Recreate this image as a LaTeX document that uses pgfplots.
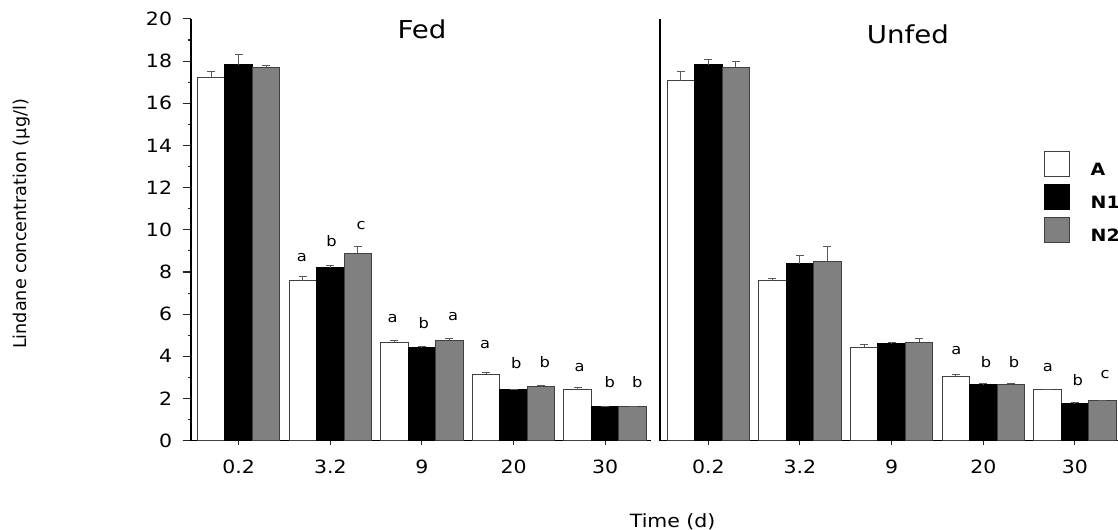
\documentclass[border=0pt]{standalone}
\usepackage{fontspec}
\setmainfont{DejaVu Sans}[FakeStretch=1.12]
\newfontfamily\plainfont{DejaVu Sans}
\newfontfamily\boldfont{DejaVu Sans Bold}[FakeStretch=1.12]
\usepackage{pgfplots}
\usepackage{pgfplotstable}
\pgfplotsset{compat=1.18}

\pgfplotstableread{
x A eA N1 eN1 N2 eN2
0 17.21 0.30 17.82 0.51 17.71 0.10
1 7.59 0.19 8.19 0.10 8.89 0.31
2 4.67 0.09 4.44 0.02 4.76 0.10
3 3.15 0.08 2.42 0.02 2.55 0.08
4 2.41 0.13 1.64 0.00 1.64 0.00
}\fed

\pgfplotstableread{
x A eA N1 eN1 N2 eN2
0 17.08 0.42 17.82 0.27 17.71 0.29
1 7.59 0.11 8.38 0.41 8.48 0.72
2 4.43 0.12 4.59 0.06 4.67 0.17
3 3.06 0.08 2.64 0.08 2.64 0.08
4 2.41 0.03 1.75 0.08 1.90 0.00
}\unfed

\definecolor{bargray}{RGB}{128,128,128}
\definecolor{errgray}{RGB}{90,90,90}

\tikzset{letter/.style={font=\fontsize{10.9}{12}\selectfont, inner sep=0pt, anchor=center}}

\pgfplotsset{
  panel/.style={
    scale only axis,
    height=316.3pt,
    ymin=0, ymax=20,
    enlarge x limits=false,
    ybar, bar width=0.3, bar shift=0pt,
    clip=false,
    axis lines*=left,
    axis line style={black, line width=0.8pt},
    tick align=outside,
    tick style={black!85, line width=0.8pt},
    xtick={0,1,2,3,4},
    xticklabels={0.2,3.2,9,20,30},
    tick label style={font=\fontsize{13.7}{16}\selectfont},
    yticklabel style={xshift=-4.5pt},
    xticklabel style={yshift=-5pt},
    /pgf/number format/assume math mode=true,
    major tick length=6.2pt,
    minor tick length=2.5pt,
    xtick style={/pgfplots/major tick length=3.2pt},
    error bars/y dir=plus,
    error bars/y explicit,
    error bars/error bar style={errgray, line width=0.8pt},
    error bars/error mark options={errgray, line width=0.8pt, mark size=3pt, rotate=90},
  },
  barA/.style={fill=white, draw=black!75, line width=0.75pt},
  barN1/.style={fill=black, draw=black, line width=0.75pt},
  barN2/.style={fill=bargray, draw=black!75, line width=0.75pt},
  leg/.style={legend image code/.code={\draw[##1] (0pt,-4.7pt) rectangle (18.75pt,14.05pt);}},
}

\begin{document}
\begin{tikzpicture}
\path[use as bounding box] (0pt,0pt) rectangle (838.5pt,-397.5pt);

% ---------------- Fed ----------------
\begin{axis}[panel,
  at={(143.25pt,-330.5pt)}, anchor=south west,
  width=345pt,
  xmin=-0.52, xmax=4.5,
  ytick={0,2,...,20},
  minor y tick num=1,
]
\addplot[barA] table[x expr=\thisrow{x}-0.3, y=A, y error=eA] {\fed};
\addplot[barN1] table[x=x, y=N1, y error=eN1] {\fed};
\addplot[barN2] table[x expr=\thisrow{x}+0.3, y=N2, y error=eN2] {\fed};

\node[letter] at (axis cs:0.69,8.68) {a};
\node[letter] at (axis cs:1.015,9.47) {b};
\node[letter] at (axis cs:1.335,10.2) {c};
\node[letter] at (axis cs:1.68,5.77) {a};
\node[letter] at (axis cs:2.02,5.57) {b};
\node[letter] at (axis cs:2.34,5.88) {a};
\node[letter] at (axis cs:2.69,4.54) {a};
\node[letter] at (axis cs:3.03,3.67) {b};
\node[letter] at (axis cs:3.34,3.75) {b};
\node[letter] at (axis cs:3.72,3.46) {a};
\node[letter] at (axis cs:4.05,2.76) {b};
\node[letter] at (axis cs:4.35,2.76) {b};
\end{axis}

% ---------------- Unfed ----------------
\begin{axis}[panel,
  at={(495pt,-330.5pt)}, anchor=south west,
  width=343.5pt,
  xmin=-0.527, xmax=4.47,
  ytick=\empty,
  legend style={draw=none, fill=none,
    at={(axis description cs:0.8384,0.6877)}, anchor=north west,
    inner sep=0pt, outer sep=0pt,
    row sep=5.05pt, column sep=15.5pt,
    font=\boldfont\fontsize{12.7}{14}\selectfont,
    nodes={inner sep=0pt}},
  legend cell align=left,
]
\addplot[barA, leg] table[x expr=\thisrow{x}-0.3, y=A, y error=eA] {\unfed};
\addplot[barN1, leg] table[x=x, y=N1, y error=eN1] {\unfed};
\addplot[barN2, leg] table[x expr=\thisrow{x}+0.3, y=N2, y error=eN2] {\unfed};
\legend{A,N1,N2}

\node[letter] at (axis cs:2.707,4.27) {a};
\node[letter] at (axis cs:3.03,3.75) {b};
\node[letter] at (axis cs:3.335,3.75) {b};
\node[letter] at (axis cs:3.706,3.48) {a};
\node[letter] at (axis cs:4.03,2.85) {b};
\node[letter] at (axis cs:4.33,3.12) {c};
\end{axis}

% titles and labels
\node[anchor=base, font=\fontsize{18.5}{20}\selectfont, inner sep=0pt] at (316.5pt,-28.7pt) {Fed};
\node[anchor=base, font=\fontsize{18.5}{20}\selectfont, inner sep=0pt] at (680.9pt,-33pt) {Unfed};
\node[anchor=base, font=\fontsize{13.7}{16}\selectfont, inner sep=0pt] at (504.5pt,-395.5pt) {Time (d)};
\node[rotate=90, font=\plainfont\fontsize{13.2}{15}\selectfont, inner sep=0pt] at (16.5pt,-168pt) {Lindane concentration (µg/l)};
\end{tikzpicture}
\end{document}
